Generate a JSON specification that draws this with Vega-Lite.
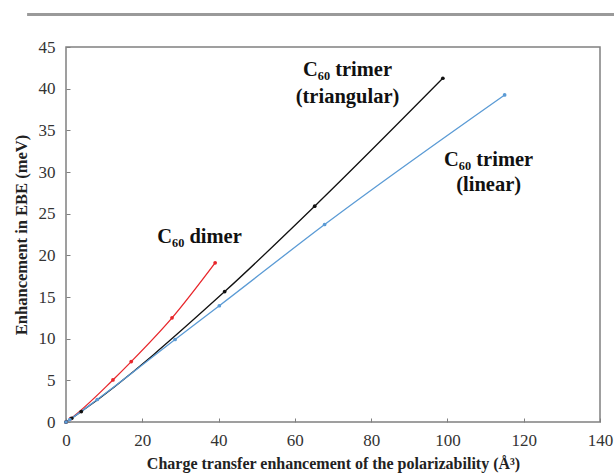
{
  "$schema": "https://vega.github.io/schema/vega-lite/v6.json",
  "width": 534,
  "height": 375,
  "autosize": "none",
  "padding": {"left": 66, "top": 47, "right": 14, "bottom": 52},
  "background": "white",
  "config": {
    "view": {"stroke": "#808080", "strokeWidth": 1.5},
    "font": "Liberation Serif"
  },
  "datasets": {
    "series": [
      {"system": "dimer", "alpha": 0, "ebe": 0},
      {"system": "dimer", "alpha": 1.2, "ebe": 0.4},
      {"system": "dimer", "alpha": 12.3, "ebe": 5.05},
      {"system": "dimer", "alpha": 17.1, "ebe": 7.25},
      {"system": "dimer", "alpha": 27.8, "ebe": 12.5},
      {"system": "dimer", "alpha": 39.1, "ebe": 19.1},
      {"system": "triangular", "alpha": 0, "ebe": 0},
      {"system": "triangular", "alpha": 1.5, "ebe": 0.45},
      {"system": "triangular", "alpha": 4.0, "ebe": 1.25},
      {"system": "triangular", "alpha": 41.6, "ebe": 15.65},
      {"system": "triangular", "alpha": 65.2, "ebe": 25.9},
      {"system": "triangular", "alpha": 98.8, "ebe": 41.25},
      {"system": "linear", "alpha": 0, "ebe": 0},
      {"system": "linear", "alpha": 1.0, "ebe": 0.3},
      {"system": "linear", "alpha": 8.2, "ebe": 2.7},
      {"system": "linear", "alpha": 28.6, "ebe": 9.9},
      {"system": "linear", "alpha": 40.2, "ebe": 13.95},
      {"system": "linear", "alpha": 67.8, "ebe": 23.7},
      {"system": "linear", "alpha": 115.0, "ebe": 39.25}
    ],
    "labels": [
      {"alpha": 35, "ebe": 22.2, "text": "C₆₀ dimer"},
      {"alpha": 73.8, "ebe": 42.3, "text": "C₆₀ trimer"},
      {"alpha": 73.8, "ebe": 39.0, "text": "(triangular)"},
      {"alpha": 110.8, "ebe": 31.4, "text": "C₆₀ trimer"},
      {"alpha": 110.8, "ebe": 28.4, "text": "(linear)"}
    ]
  },
  "layer": [
    {
      "data": {"values": [{}]},
      "mark": {"type": "rule", "stroke": "#9a9a9a", "strokeWidth": 3, "clip": false},
      "encoding": {
        "x": {"datum": -10.2, "type": "quantitative"},
        "x2": {"datum": 145},
        "y": {"datum": 48.9, "type": "quantitative"}
      }
    },
    {
      "data": {"name": "series"},
      "mark": {"type": "line", "strokeWidth": 1.3, "interpolate": "monotone", "point": {"filled": true, "size": 14}},
      "encoding": {
        "x": {
          "field": "alpha",
          "type": "quantitative",
          "scale": {"domain": [0, 140], "nice": false, "zero": false},
          "axis": {
            "title": "Charge transfer enhancement of the polarizability (Å³)",
            "titleFont": "Liberation Serif",
            "titleFontSize": 16,
            "titleFontWeight": "bold",
            "titleColor": "#222",
            "titlePadding": 7,
            "values": [0, 20, 40, 60, 80, 100, 120, 140],
            "grid": false,
            "domain": false,
            "ticks": true,
            "tickSize": -4,
            "tickColor": "#808080",
            "labelFont": "Liberation Serif",
            "labelFontSize": 17,
            "labelColor": "#333",
            "labelPadding": 14,
            "labelFlush": false
          }
        },
        "y": {
          "field": "ebe",
          "type": "quantitative",
          "scale": {"domain": [0, 45], "nice": false},
          "axis": {
            "title": "Enhancement in EBE (meV)",
            "titleFont": "Liberation Serif",
            "titleFontSize": 16.5,
            "titleFontWeight": "bold",
            "titleColor": "#222",
            "titlePadding": 9,
            "values": [0, 5, 10, 15, 20, 25, 30, 35, 40, 45],
            "grid": false,
            "domain": false,
            "ticks": true,
            "tickSize": -4,
            "tickColor": "#808080",
            "labelFont": "Liberation Serif",
            "labelFontSize": 17,
            "labelColor": "#333",
            "labelPadding": 15
          }
        },
        "color": {
          "field": "system",
          "type": "nominal",
          "scale": {"domain": ["dimer", "triangular", "linear"], "range": ["#e8262b", "#111111", "#5b9bd5"]},
          "legend": null
        },
        "detail": {"field": "system"}
      }
    },
    {
      "data": {"name": "labels"},
      "mark": {"type": "text", "font": "Liberation Serif", "fontSize": 20.5, "fontWeight": "bold", "color": "#111", "align": "center", "baseline": "middle"},
      "encoding": {
        "x": {"field": "alpha", "type": "quantitative"},
        "y": {"field": "ebe", "type": "quantitative"},
        "text": {"field": "text"}
      }
    }
  ]
}
